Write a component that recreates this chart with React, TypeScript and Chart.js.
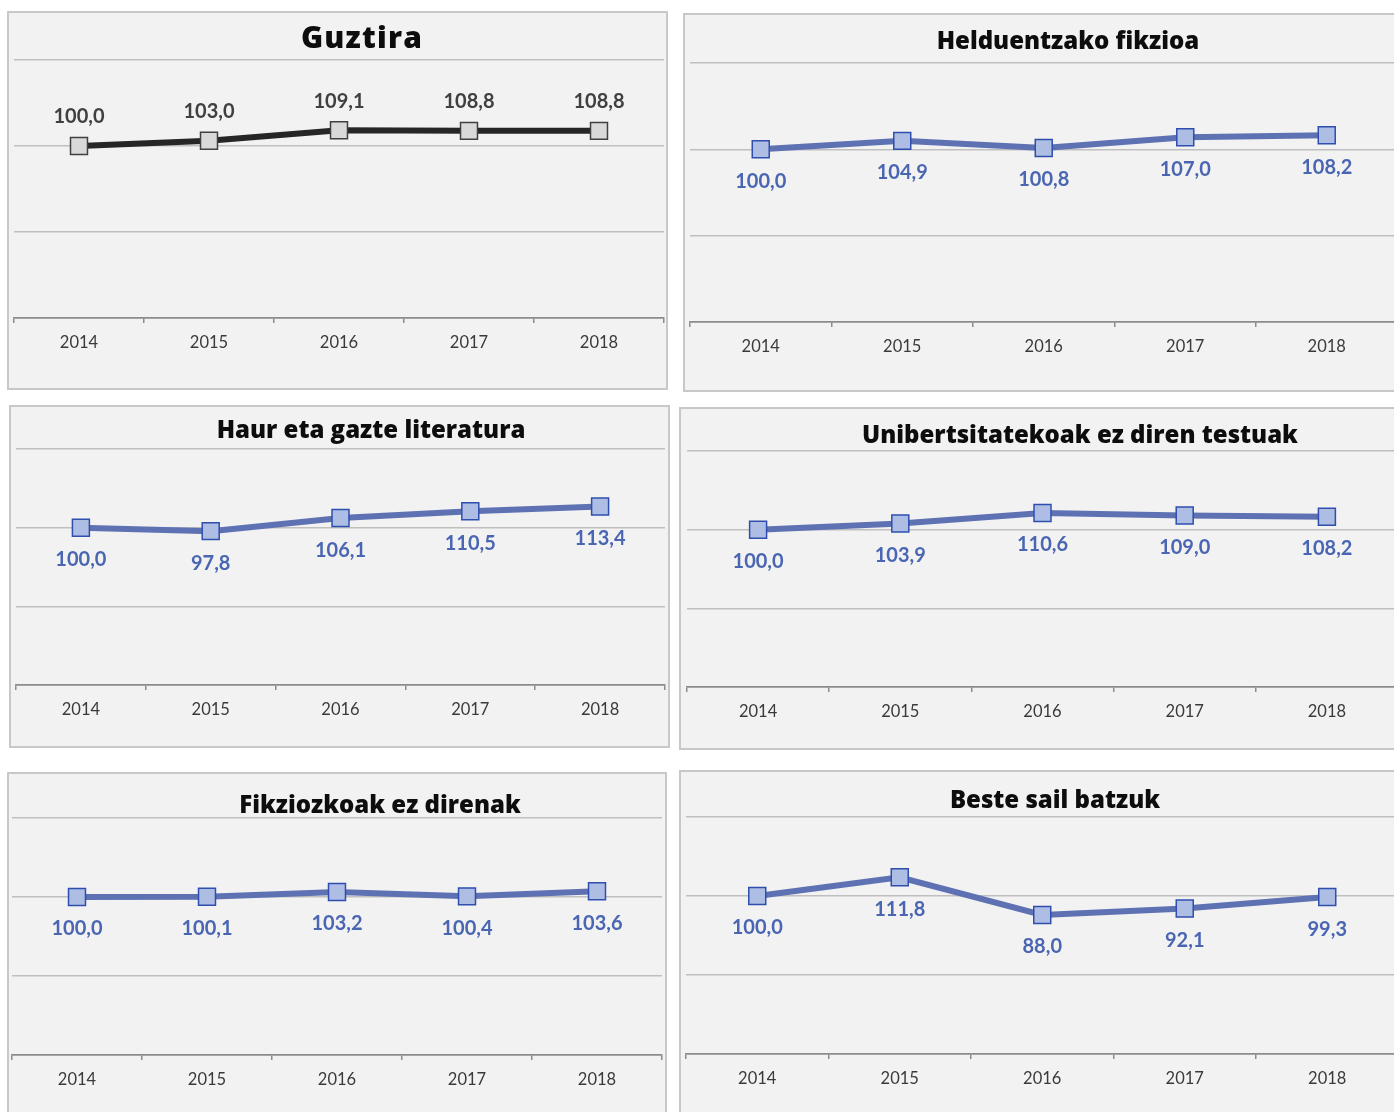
import React, { useEffect, useRef } from "react";
import { Chart, registerables } from "chart.js";
Chart.register(...registerables);

// ---------------- data ----------------
const years = ["2014", "2015", "2016", "2017", "2018"];
const guztira = [100.0, 103.0, 109.1, 108.8, 108.8];
const helduentzakoFikzioa = [100.0, 104.9, 100.8, 107.0, 108.2];
const haurGazteLiteratura = [100.0, 97.8, 106.1, 110.5, 113.4];
const unibertsitatekoakEz = [100.0, 103.9, 110.6, 109.0, 108.2];
const fikziozkoakEz = [100.0, 100.1, 103.2, 100.4, 103.6];
const besteSail = [100.0, 111.8, 88.0, 92.1, 99.3];
const yTickValues = [0, 50, 100, 150];

const titles = [
  "Guztira",
  "Helduentzako fikzioa",
  "Haur eta gazte literatura",
  "Unibertsitatekoak ez diren testuak",
  "Fikziozkoak ez direnak",
  "Beste sail batzuk",
];

type Box = { x: number; y: number; w: number; h: number };
type Plot = { l: number; r: number; t: number; b: number };

interface PanelProps {
  title: string;
  data: number[];
  box: Box;
  plot: Plot;
  titleX: number;
  titleY: number;
  titleSize: number;
  titleSpacing: number;
  dark: boolean;
  labelGap: number;
}

const BW = 2;
const fmt = (v: number) => v.toFixed(1).replace(".", ",");

function Panel(p: PanelProps) {
  const ref = useRef<HTMLCanvasElement | null>(null);
  useEffect(() => {
    if (!ref.current) return;
    const ox = p.box.x + BW;
    const oy = p.box.y + BW;
    const cw = p.box.w - 2 * BW;
    const ch = p.box.h - 2 * BW;
    const xHeight = oy + ch - p.plot.b;
    const lineColor = p.dark ? "#262626" : "#5e72b3";
    const markFill = p.dark ? "#d9d9d9" : "#adbde3";
    const markBorder = p.dark ? "#404040" : "#2f4fae";
    const labelColor = p.dark ? "#404040" : "#4a66b2";
    const axisColor = "#8c8c8c";
    const gridColor = "#bfbfbf";

    const labelPlugin = {
      id: "valueLabels",
      afterDatasetsDraw(chart: any) {
        const ctx = chart.ctx;
        const meta = chart.getDatasetMeta(0);
        ctx.save();
        ctx.font = "bold 20px Lato";
        ctx.fillStyle = labelColor;
        ctx.textAlign = "center";
        ctx.textBaseline = "middle";
        meta.data.forEach((pt: any, i: number) => {
          const v = chart.data.datasets[0].data[i] as number;
          ctx.fillText(fmt(v), pt.x, pt.y + p.labelGap);
        });
        ctx.restore();
      },
    };

    const chart = new Chart(ref.current, {
      type: "line",
      data: {
        labels: years,
        datasets: [
          {
            data: p.data,
            borderColor: lineColor,
            borderWidth: 6,
            pointStyle: "rect",
            pointRadius: 12,
            pointBackgroundColor: markFill,
            pointBorderColor: markBorder,
            pointBorderWidth: 1.5,
            tension: 0,
            clip: false as any,
          },
        ],
      },
      options: {
        animation: false,
        responsive: true,
        maintainAspectRatio: false,
        events: [],
        layout: {
          autoPadding: false,
          padding: {
            left: p.plot.l - ox,
            right: ox + cw - p.plot.r,
            top: p.plot.t - oy,
            bottom: 0,
          },
        },
        plugins: {
          legend: { display: false },
          title: { display: false },
          tooltip: { enabled: false },
        },
        scales: {
          x: {
            type: "category",
            offset: true,
            afterFit: (s: any) => {
              s.height = xHeight;
              s.paddingLeft = 0;
              s.paddingRight = 0;
              s.paddingTop = 0;
              s.paddingBottom = 0;
            },
            grid: {
              offset: true,
              drawOnChartArea: false,
              drawTicks: true,
              tickLength: 5,
              color: axisColor,
              lineWidth: 1.5,
            },
            border: { display: true, color: axisColor, width: 1.5 },
            ticks: {
              color: "#3a3a3a",
              font: { family: "Lato", size: 16.5 },
              padding: 10,
              maxRotation: 0,
              autoSkip: false,
            },
          },
          y: {
            min: yTickValues[0],
            max: yTickValues[yTickValues.length - 1],
            afterFit: (s: any) => {
              s.width = 0;
              s.paddingLeft = 0;
              s.paddingRight = 0;
              s.paddingTop = 0;
              s.paddingBottom = 0;
            },
            afterBuildTicks: (s: any) => {
              s.ticks = yTickValues.map((v) => ({ value: v }));
            },
            ticks: { display: false },
            border: { display: false },
            grid: {
              drawTicks: false,
              color: (c: any) => (c.tick && c.tick.value === 0 ? axisColor : gridColor),
              lineWidth: 1.5,
            },
          },
        },
      },
      plugins: [labelPlugin],
    });
    return () => chart.destroy();
  }, []);

  return (
    <>
      <div
        style={{
          position: "absolute",
          left: p.box.x,
          top: p.box.y,
          width: p.box.w,
          height: p.box.h,
          boxSizing: "border-box",
          border: `${BW}px solid #c8c8c8`,
          background: "#f2f2f2",
        }}
      >
        <div
          style={{
            position: "absolute",
            left: 0,
            top: 0,
            width: p.box.w - 2 * BW,
            height: p.box.h - 2 * BW,
          }}
        >
          <canvas ref={ref} />
        </div>
      </div>
      <div
        style={{
          position: "absolute",
          left: p.titleX,
          top: p.titleY,
          transform: "translate(-50%, -50%)",
          whiteSpace: "nowrap",
          fontFamily: "'Open Sans', sans-serif",
          fontWeight: 800,
          fontSize: p.titleSize,
          letterSpacing: p.titleSpacing,
          color: "#0d0d0d",
          lineHeight: 1,
        }}
      >
        {p.title}
      </div>
    </>
  );
}

export default function App() {
  return (
    <div
      style={{
        position: "fixed",
        left: 0,
        top: 0,
        width: 1394,
        height: 1112,
        overflow: "hidden",
        background: "#ffffff",
      }}
    >
      <Panel
        title={titles[0]}
        data={guztira}
        box={{ x: 7, y: 11, w: 661, h: 379 }}
        plot={{ l: 14, r: 664, t: 60, b: 318 }}
        titleX={362}
        titleY={37}
        titleSize={30}
        titleSpacing={1.2}
        dark={true}
        labelGap={-29}
      />
      <Panel
        title={titles[1]}
        data={helduentzakoFikzioa}
        box={{ x: 683, y: 13, w: 800, h: 379 }}
        plot={{ l: 690, r: 1397.5, t: 63, b: 322 }}
        titleX={1068}
        titleY={40}
        titleSize={24}
        titleSpacing={0}
        dark={false}
        labelGap={32}
      />
      <Panel
        title={titles[2]}
        data={haurGazteLiteratura}
        box={{ x: 9, y: 405, w: 661, h: 343 }}
        plot={{ l: 16, r: 665, t: 449, b: 685 }}
        titleX={371}
        titleY={429}
        titleSize={24}
        titleSpacing={0}
        dark={false}
        labelGap={32}
      />
      <Panel
        title={titles[3]}
        data={unibertsitatekoakEz}
        box={{ x: 679, y: 407, w: 800, h: 343 }}
        plot={{ l: 687, r: 1398, t: 451, b: 687 }}
        titleX={1080}
        titleY={434}
        titleSize={24}
        titleSpacing={0}
        dark={false}
        labelGap={32}
      />
      <Panel
        title={titles[4]}
        data={fikziozkoakEz}
        box={{ x: 7, y: 772, w: 660, h: 400 }}
        plot={{ l: 12, r: 662, t: 818, b: 1055 }}
        titleX={380}
        titleY={804}
        titleSize={24}
        titleSpacing={0}
        dark={false}
        labelGap={32}
      />
      <Panel
        title={titles[5]}
        data={besteSail}
        box={{ x: 679, y: 770, w: 800, h: 400 }}
        plot={{ l: 686, r: 1398.5, t: 817, b: 1054 }}
        titleX={1055}
        titleY={799}
        titleSize={24}
        titleSpacing={0}
        dark={false}
        labelGap={32}
      />
    </div>
  );
}
